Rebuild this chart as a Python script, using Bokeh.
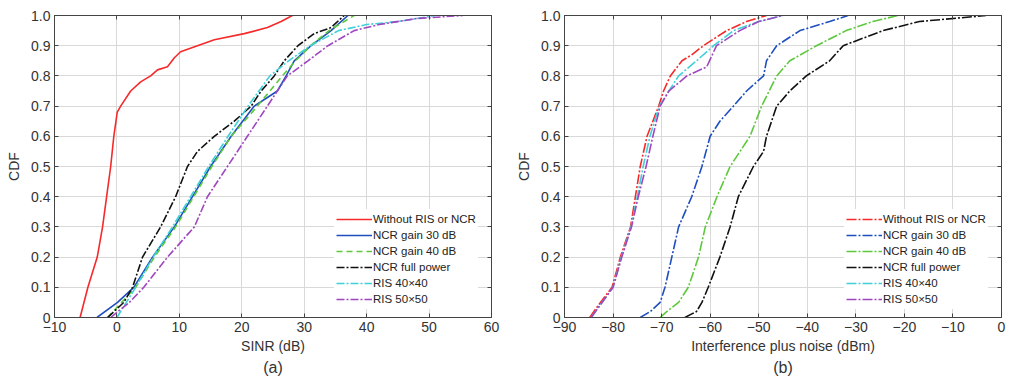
from bokeh.plotting import figure
from bokeh.layouts import row
from bokeh.models import Range1d, FixedTicker, LinearAxis, Title, Legend
from bokeh.embed import file_html
from bokeh.resources import INLINE

# ---------------- data ----------------
series_names = ["Without RIS or NCR", "NCR gain 30 dB", "NCR gain 40 dB",
                "NCR full power", "RIS 40\u00d740", "RIS 50\u00d750"]

# (a) SINR (dB) : x positions at CDF levels
a_red_cdf = [0, 0.1, 0.2, 0.3, 0.4, 0.5, 0.6, 0.68, 0.7, 0.75, 0.78, 0.8, 0.82, 0.83, 0.86, 0.88, 0.9, 0.92, 0.94, 0.96, 0.98, 1.0]
a_red_x = [-5.9, -4.65, -3.15, -2.3, -1.65, -1.0, -0.5, 0.05, 0.6, 2.2, 3.8, 5.4, 6.5, 8.1, 9.2, 10.2, 12.9, 15.6, 20.4, 24.1, 26.3, 28.1]

a_blue_cdf = [0, 0.05, 0.1, 0.2, 0.3, 0.4, 0.5, 0.6, 0.7, 0.75, 0.8, 0.85, 0.9, 0.95, 1.0]
a_blue_x = [-3.2, 0.1, 2.7, 5.7, 9.2, 12.1, 15.0, 18.3, 22.0, 25.7, 27.1, 28.4, 31.1, 34.3, 37.0]

a_green_cdf = [0, 0.1, 0.2, 0.3, 0.4, 0.5, 0.6, 0.7, 0.75, 0.8, 0.85, 0.9, 0.95, 1.0]
a_green_x = [-1.5, 3.0, 6.0, 9.4, 12.3, 15.2, 18.3, 22.5, 24.5, 26.5, 28.6, 31.0, 34.0, 38.0]

a_black_cdf = [0, 0.05, 0.1, 0.2, 0.3, 0.4, 0.5, 0.55, 0.6, 0.65, 0.7, 0.75, 0.8, 0.85, 0.9, 0.94, 0.96, 1.0]
a_black_x = [-1.5, 1.1, 2.5, 4.1, 7.0, 9.4, 11.3, 12.9, 15.6, 18.8, 21.5, 23.1, 25.2, 26.8, 29.0, 31.6, 34.3, 36.4]

a_cyan_cdf = [0, 0.1, 0.2, 0.3, 0.4, 0.5, 0.6, 0.7, 0.8, 0.85, 0.9, 0.95, 0.97, 0.98, 1.0]
a_cyan_x = [0.0, 3.0, 5.8, 8.9, 11.8, 14.7, 17.8, 21.0, 24.5, 27.5, 31.0, 35.5, 40.0, 45.0, 51.0]

a_purple_cdf = [0, 0.05, 0.1, 0.2, 0.3, 0.4, 0.5, 0.6, 0.7, 0.8, 0.85, 0.9, 0.95, 0.97, 0.99, 1.0]
a_purple_x = [-1.0, 2.0, 4.3, 8.1, 12.4, 14.5, 17.7, 20.9, 24.1, 27.3, 30.6, 33.8, 38.0, 42.0, 48.0, 55.4]

# (b) Interference plus noise (dBm)
b_red_cdf = [0, 0.05, 0.1, 0.2, 0.3, 0.4, 0.5, 0.6, 0.7, 0.75, 0.8, 0.85, 0.87, 0.9, 0.95, 0.98, 1.0]
b_red_x = [-84.8, -82.6, -80.2, -78.5, -76.4, -75.4, -74.4, -73.0, -70.6, -69.6, -68.2, -65.8, -63.8, -61.4, -56.6, -52.5, -48.4]

b_blue_cdf = [0, 0.02, 0.05, 0.1, 0.2, 0.3, 0.4, 0.5, 0.6, 0.65, 0.7, 0.75, 0.8, 0.85, 0.9, 0.95, 0.98, 1.0]
b_blue_x = [-74.4, -72.3, -70.3, -69.3, -67.9, -66.5, -63.8, -61.7, -60.0, -58.0, -55.2, -52.5, -49.0, -48.4, -46.3, -41.5, -35.4, -31.6]

b_green_cdf = [0, 0.02, 0.05, 0.1, 0.2, 0.3, 0.4, 0.5, 0.6, 0.7, 0.8, 0.85, 0.9, 0.95, 0.98, 1.0]
b_green_x = [-70.3, -68.9, -66.5, -64.5, -62.4, -61.0, -58.6, -55.9, -51.8, -49.4, -46.3, -43.6, -38.1, -32.0, -26.5, -21.3]

b_black_cdf = [0, 0.02, 0.05, 0.1, 0.2, 0.3, 0.4, 0.5, 0.55, 0.6, 0.7, 0.75, 0.8, 0.85, 0.9, 0.95, 0.98, 1.0]
b_black_x = [-65.2, -62.8, -61.7, -60.4, -58.0, -55.9, -54.2, -51.1, -49.0, -48.4, -46.3, -43.6, -40.2, -35.4, -32.6, -24.4, -16.9, -3.2]

b_cyan_cdf = [0, 0.1, 0.2, 0.3, 0.4, 0.5, 0.6, 0.7, 0.8, 0.85, 0.9, 0.95, 0.98, 1.0]
b_cyan_x = [-84.5, -80.0, -78.3, -76.3, -75.0, -73.8, -72.4, -70.5, -66.5, -62.8, -59.3, -55.2, -50.0, -45.0]

b_purple_cdf = [0, 0.1, 0.2, 0.3, 0.4, 0.5, 0.6, 0.7, 0.75, 0.8, 0.83, 0.9, 0.95, 0.98, 1.0]
b_purple_x = [-84.5, -80.0, -78.2, -76.2, -74.8, -73.2, -71.8, -70.3, -68.5, -64.8, -60.7, -58.7, -53.9, -50.0, -45.0]

a_xticks = [-10, 0, 10, 20, 30, 40, 50, 60]
b_xticks = [-90, -80, -70, -60, -50, -40, -30, -20, -10, 0]
yticks = [0, 0.1, 0.2, 0.3, 0.4, 0.5, 0.6, 0.7, 0.8, 0.9, 1.0]
ytick_labels = ["0", "0.1", "0.2", "0.3", "0.4", "0.5", "0.6", "0.7", "0.8", "0.9", "1.0"]

colors = ["#f52a2a", "#1f4fbf", "#5cc83c", "#111111", "#40d0d8", "#a046c0"]
FONT = "Liberation Sans"


def fmt(v):
    return ("\u2212" + str(abs(v))) if v < 0 else str(v)


def style_axis(ax, show_labels=True):
    ax.major_tick_in = 4
    ax.major_tick_out = 0
    ax.minor_tick_line_color = None
    ax.axis_line_color = "#444444"
    ax.major_tick_line_color = "#444444"
    ax.major_label_text_font = FONT
    ax.major_label_text_font_size = "14px" if show_labels else "0px"
    ax.major_label_text_color = "#333333"
    ax.axis_label_text_font = FONT
    ax.axis_label_text_font_size = "14px"
    ax.axis_label_text_font_style = "normal"
    ax.axis_label_text_color = "#333333"


def make_fig(xr, xticks, xlabel, sub, left_border, series, dashes):
    p = figure(frame_width=437, frame_height=302, output_backend="svg",
               toolbar_location=None, x_range=Range1d(*xr), y_range=Range1d(0, 1),
               min_border_left=left_border, min_border_right=10,
               min_border_top=15, min_border_bottom=63)
    p.outline_line_color = "#444444"
    p.background_fill_color = "white"
    p.border_fill_color = "white"
    style_axis(p.xaxis[0])
    style_axis(p.yaxis[0])
    p.xaxis[0].ticker = FixedTicker(ticks=xticks)
    p.xaxis[0].major_label_overrides = {v: fmt(v) for v in xticks}
    p.xaxis[0].major_label_standoff = 4
    p.xaxis[0].axis_label = xlabel
    p.xaxis[0].axis_label_standoff = 3
    p.yaxis[0].ticker = FixedTicker(ticks=yticks)
    p.yaxis[0].major_label_overrides = dict(zip(yticks, ytick_labels))
    p.yaxis[0].major_label_standoff = 4
    p.yaxis[0].axis_label = "CDF"
    p.yaxis[0].axis_label_standoff = 6

    top = LinearAxis(ticker=FixedTicker(ticks=xticks), major_label_overrides={v: "" for v in xticks})
    style_axis(top, False)
    top.major_label_standoff = 0
    right = LinearAxis(ticker=FixedTicker(ticks=yticks), major_label_overrides={v: "" for v in yticks})
    style_axis(right, False)
    right.major_label_standoff = 0
    p.add_layout(top, "above")
    p.add_layout(right, "right")

    p.xgrid.ticker = FixedTicker(ticks=xticks)
    p.ygrid.ticker = FixedTicker(ticks=yticks)
    p.grid.grid_line_color = "#d9d9d9"
    p.grid.grid_line_width = 1

    items = []
    for (xs, cs), name, col, dash in zip(series, series_names, colors, dashes):
        r = p.line(xs, cs, line_color=col, line_width=1.6, line_dash=dash)
        items.append((name, [r]))
    leg = Legend(items=items, location=(280, 8))
    leg.border_line_alpha = 0
    leg.background_fill_alpha = 1
    leg.padding = 2
    leg.spacing = 0
    leg.margin = 0
    leg.glyph_width = 36
    leg.glyph_height = 16
    leg.label_height = 16
    leg.label_standoff = 1
    leg.label_text_font = FONT
    leg.label_text_font_size = "11.5px"
    leg.label_text_color = "#222222"
    p.add_layout(leg, "center")

    t = Title(text=sub, align="center", text_font=FONT, text_font_size="16px",
              text_font_style="normal", text_color="#333333", standoff=0)
    p.add_layout(t, "below")
    return p


a_series = [(a_red_x, a_red_cdf), (a_blue_x, a_blue_cdf), (a_green_x, a_green_cdf),
            (a_black_x, a_black_cdf), (a_cyan_x, a_cyan_cdf), (a_purple_x, a_purple_cdf)]
b_series = [(b_red_x, b_red_cdf), (b_blue_x, b_blue_cdf), (b_green_x, b_green_cdf),
            (b_black_x, b_black_cdf), (b_cyan_x, b_cyan_cdf), (b_purple_x, b_purple_cdf)]

pa = make_fig((-10, 60), a_xticks, "SINR (dB)", "(a)", 54, a_series,
              ["solid", "solid", "6 4", "8 2 2 2", "8 2 2 2", "8 2 2 2"])
pb = make_fig((-90, 0), b_xticks, "Interference plus noise (dBm)", "(b)", 63, b_series,
              ["10 2 2 2"] * 6)

layout = row(pa, pb)
open("out.html", "w").write(file_html(layout, INLINE))
